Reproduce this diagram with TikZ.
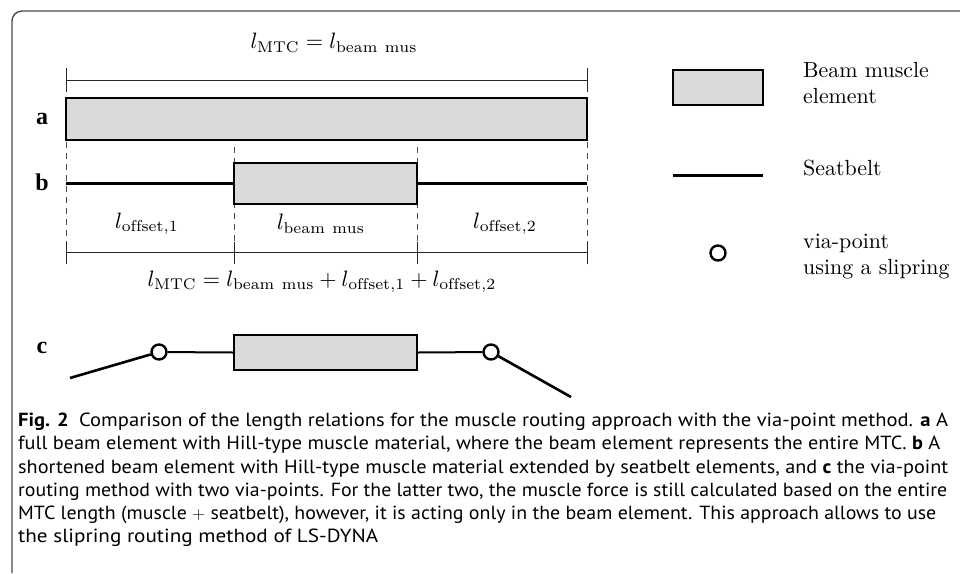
\documentclass[tikz,border=0pt]{standalone}
\usepackage{fontspec}
\usepackage{graphicx}
\newfontfamily\capfont{PT Sans}
\newfontfamily\lblfont{Liberation Serif}
\definecolor{beamgray}{HTML}{D9DBDA}
\definecolor{framegray}{HTML}{4A4A4A}
\newsavebox\formbox
\newlength\formlen
\sbox\formbox{\fontsize{10}{12}\selectfont$l_{\mathrm{MTC}} = l_{\mathrm{beam\ mus}} + l_{\mathrm{offset,1}} + l_{\mathrm{offset,2}}$}
\setlength\formlen{\wd\formbox}
\pgfmathsetmacro\mscale{348/\formlen}
\newcommand\mth[1]{\scalebox{\mscale}{\fontsize{10}{12}\selectfont$#1$}}
\newcommand\legtxt[1]{\scalebox{2.19}{\fontsize{10}{12}\selectfont\begin{tabular}{@{}l@{}}#1\end{tabular}}}
\newcommand\capl[2]{\resizebox{#1pt}{\height}{#2}}
\tikzset{
  beambox/.style={draw=black, line width=2.4pt, fill=beamgray, inner sep=0pt},
  belt/.style={line width=3pt},
  vialine/.style={line width=2.6pt},
  linkline/.style={line width=2pt},
  viaring/.style={circle, draw=black, line width=2.4pt, fill=white, minimum size=15pt, inner sep=0pt},
  dimline/.style={line width=0.9pt, black!85},
  guide/.style={line width=0.9pt, black!70, dash pattern=on 6pt off 5pt},
  mathlbl/.style={inner sep=0pt},
  leglbl/.style={anchor=west, inner sep=0pt},
  rowlbl/.style={font=\lblfont\bfseries\fontsize{24}{26}\selectfont, inner sep=0pt},
  capline/.style={anchor=base west, inner sep=0pt, font=\capfont\fontsize{19}{22}\selectfont}
}
\begin{document}
\begin{tikzpicture}[x=1pt,y=-1pt]
\useasboundingbox (0,0) rectangle (960,573);
% frame
\draw[framegray, line width=1.4pt] (960,11) -- (22,11) arc[start angle=-90, end angle=-180, radius=10] -- (12,573);

% ---- a ----
\node[mathlbl] (ta) at (334,43) {\mth{l_{\mathrm{MTC}} = l_{\mathrm{beam\ mus}}}};
\coordinate (a1) at (66,80);
\coordinate (a2) at (587,80);
\draw[dimline] (a1) -- (a2);
\draw[dimline] ([yshift=-12]a1) -- ([yshift=12]a1);
\draw[dimline] ([yshift=-12]a2) -- ([yshift=12]a2);
\node[beambox, minimum width=521pt, minimum height=42pt] (abar) at (326.5,119) {};
\node[rowlbl] (la) at (42,119) {a};

% guides
\coordinate (g1t) at (66,142);
\coordinate (g1b) at (66,262);
\coordinate (g4t) at (587,142);
\coordinate (g4b) at (587,262);
\coordinate (g2t) at (234,147);
\coordinate (g2b) at (234,262);
\coordinate (g3t) at (417,147);
\coordinate (g3b) at (417,262);
\draw[guide] (g1t) -- (g1b);
\draw[guide] (g4t) -- (g4b);
\draw[guide] (g2t) -- (g2b);
\draw[guide] (g3t) -- (g3b);

% ---- b ----
\node[beambox, minimum width=183pt, minimum height=41pt] (bbox) at (325.5,183.5) {};
\coordinate (bL) at (66,183.5);
\coordinate (bR) at (587,183.5);
\draw[belt] (bL) -- (bbox.west);
\draw[belt] (bbox.east) -- (bR);
\node[rowlbl] (lb) at (42,182) {b};

\node[mathlbl] (lo1) at (147,224) {\mth{l_{\mathrm{offset,1}}}};
\node[mathlbl] (lbm) at (321,224) {\mth{l_{\mathrm{beam\ mus}}}};
\node[mathlbl] (lo2) at (505,224) {\mth{l_{\mathrm{offset,2}}}};

\coordinate (d1) at (66,252);
\coordinate (d2) at (234,252);
\coordinate (d3) at (417,252);
\coordinate (d4) at (587,252);
\draw[dimline] (d1) -- (d4);
\foreach \p in {d1,d2,d3,d4}
  \draw[dimline] ([yshift=-12]\p) -- ([yshift=10]\p);
\node[mathlbl] (tb) at (322,282) {\mth{l_{\mathrm{MTC}} = l_{\mathrm{beam\ mus}} + l_{\mathrm{offset,1}} + l_{\mathrm{offset,2}}}};

% ---- c ----
\node[beambox, line width=1.6pt, minimum width=183pt, minimum height=35pt] (cbox) at (325.5,352.5) {};
\node[rowlbl] (lc) at (42,348) {c};
\coordinate (cL) at (70,378);
\coordinate (cR) at (571,397);
\node[viaring] (v1) at (159,352) {};
\node[viaring] (v2) at (491,352) {};
\draw[vialine] (cL) -- (v1);
\draw[linkline] (v1) -- (cbox.west);
\draw[linkline] (cbox.east) -- (v2);
\draw[vialine] (v2) -- (cR);

% ---- legend ----
\node[beambox, minimum width=90pt, minimum height=35pt] (legbox) at (718,87.5) {};
\node[leglbl] (tl1) at (803,85) {\legtxt{Beam muscle\\element}};
\coordinate (s1) at (673,175);
\coordinate (s2) at (763,175);
\draw[belt] (s1) -- (s2);
\node[leglbl] (tl2) at (803,170) {\legtxt{Seatbelt}};
\node[viaring] (legvia) at (718,253) {};
\node[leglbl] (tl3) at (803,256) {\legtxt{via-point\\using a slipring}};

% ---- caption ----
\node[capline] (c1) at (18,426) {\capl{930}{\textbf{Fig. 2}\enspace Comparison of the length relations for the muscle routing approach with the via-point method. \textbf{a} A}};
\node[capline] (c2) at (18,449) {\capl{922}{full beam element with Hill-type muscle material, where the beam element represents the entire MTC. \textbf{b} A}};
\node[capline] (c3) at (18,473) {\capl{930}{shortened beam element with Hill-type muscle material extended by seatbelt elements, and \textbf{c} the via-point}};
\node[capline] (c4) at (18,496) {\capl{929}{routing method with two via-points. For the latter two, the muscle force is still calculated based on the entire}};
\node[capline] (c5) at (18,519) {\capl{918}{MTC length (muscle $+$ seatbelt), however, it is acting only in the beam element. This approach allows to use}};
\node[capline] (c6) at (18,542) {\capl{360}{the slipring routing method of LS-DYNA}};
\end{tikzpicture}
\end{document}
